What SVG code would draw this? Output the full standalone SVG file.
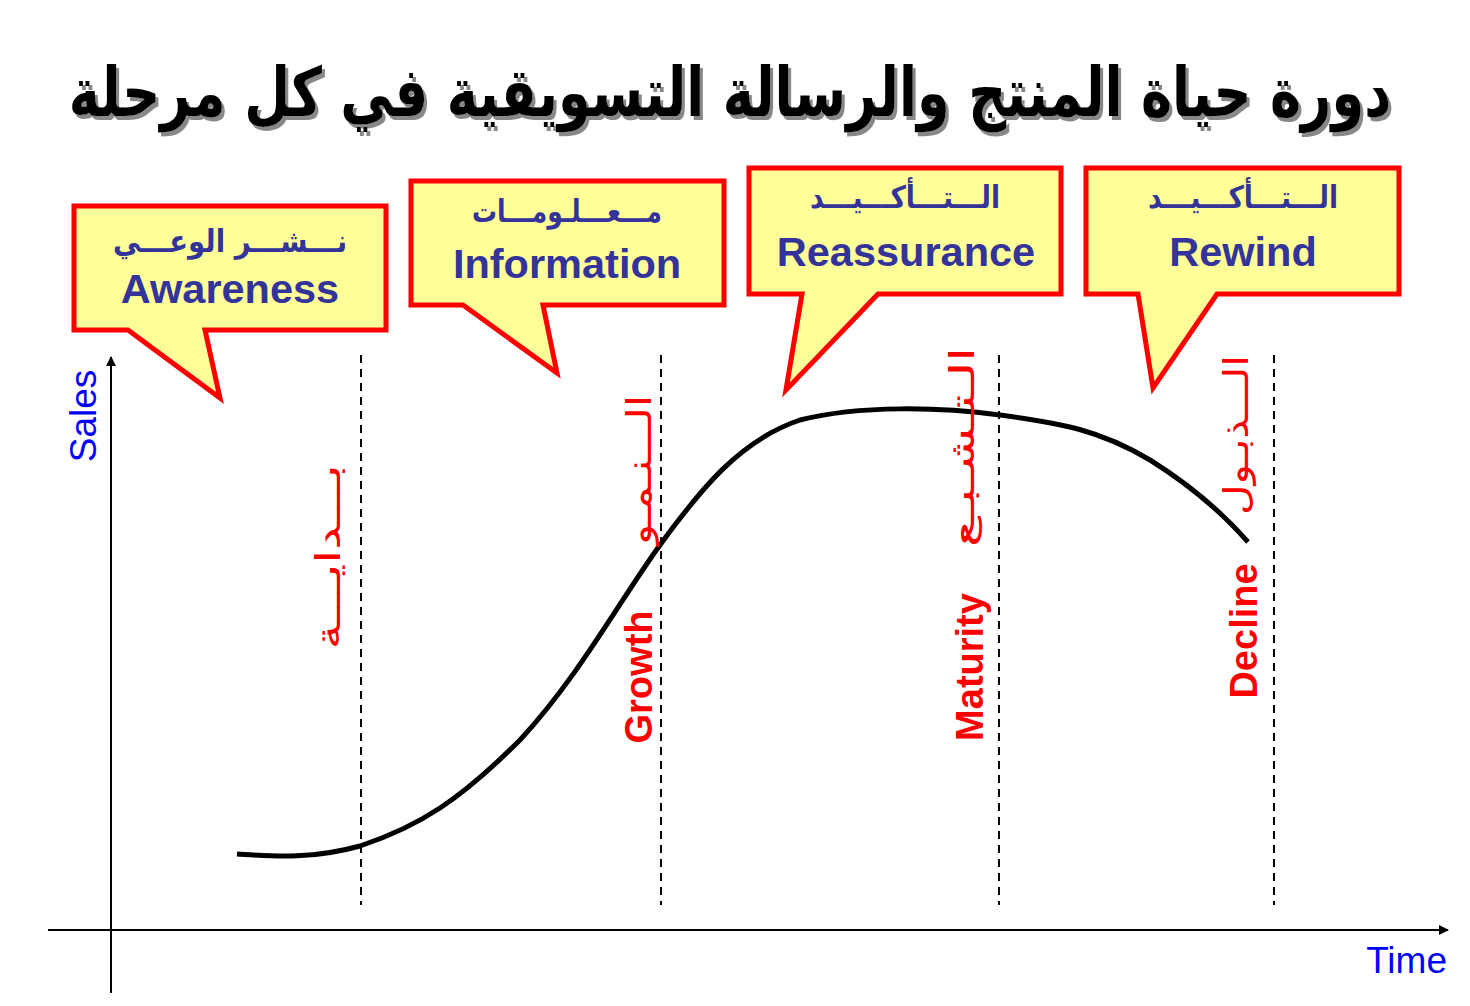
<svg xmlns="http://www.w3.org/2000/svg" width="1470" height="1006" viewBox="0 0 1470 1006">
<style>
.callout{fill:#FFFF99;stroke:#FF0000;stroke-width:5;stroke-linejoin:miter}
.ar{font-family:"DejaVu Sans",sans-serif;font-weight:bold;fill:#333399;font-size:31px;text-anchor:middle}
.en{font-family:"Liberation Sans",Arial,sans-serif;font-weight:bold;fill:#333399;font-size:41.5px;text-anchor:middle}
.stage{font-family:"Liberation Sans",Arial,sans-serif;font-weight:bold;fill:#FF0000;font-size:38px;text-anchor:middle}
.arst{font-family:"DejaVu Sans",sans-serif;fill:#FF0000;font-size:34px;text-anchor:middle}
.axlab{font-family:"Liberation Sans",Arial,sans-serif;fill:#0000FF;font-size:37px}
.dash{stroke:#000;stroke-width:2;stroke-dasharray:8,6;fill:none}
.title{font-family:"DejaVu Sans",sans-serif;font-weight:bold;font-size:64px;text-anchor:middle}
</style>
<defs>
<marker id="arr" viewBox="0 0 10 10" refX="9" refY="5" markerWidth="10" markerHeight="10" markerUnits="userSpaceOnUse" orient="auto">
<path d="M0,0 L10,5 L0,10 Z" fill="#000"/>
</marker>
<filter id="shadow" x="-10%" y="-50%" width="120%" height="200%">
<feOffset in="SourceAlpha" dx="4" dy="4" result="o"/>
<feFlood flood-color="#888"/>
<feComposite in2="o" operator="in" result="s"/>
<feMerge><feMergeNode in="s"/><feMergeNode in="SourceGraphic"/></feMerge>
</filter>
</defs>
<rect width="1470" height="1006" fill="#fff"/>
<g id="title">
<text class="title" transform="translate(730,116) scale(0.825,1.06)" fill="#000" filter="url(#shadow)">دورة حياة المنتج والرسالة التسويقية في كل مرحلة</text>
</g>
<g id="axes">
<line x1="111" y1="993" x2="111" y2="357" stroke="#000" stroke-width="2" marker-end="url(#arr)"/>
<line x1="48" y1="930" x2="1448" y2="930" stroke="#000" stroke-width="2" marker-end="url(#arr)"/>
<text class="axlab" transform="translate(96,416) rotate(-90)" text-anchor="middle">Sales</text>
<text class="axlab" x="1447" y="973" text-anchor="end">Time</text>
</g>
<g id="dividers">
<line class="dash" x1="361" y1="355" x2="361" y2="905"/>
<line class="dash" x1="661" y1="355" x2="661" y2="905"/>
<line class="dash" x1="999" y1="355" x2="999" y2="905"/>
<line class="dash" x1="1274" y1="355" x2="1274" y2="905"/>
</g>
<g id="curve">
<path d="M237,854 C270,856 310,860 360,846 C420,826 460,800 520,740 C580,675 620,600 660,545 C700,490 740,440 800,420 C860,405 940,407 1000,415 C1060,423 1100,430 1150,460 C1190,485 1220,510 1248,542" fill="none" stroke="#000" stroke-width="5"/>
</g>
<g id="stage-intro">
<text class="arst" transform="translate(340,557) rotate(-90)" textLength="185" lengthAdjust="spacingAndGlyphs">بـــدايـــة</text>
</g>
<g id="stage-growth">
<text class="arst" transform="translate(651,470) rotate(-90)" textLength="150" lengthAdjust="spacingAndGlyphs">الـــنـمـو</text>
<text class="stage" transform="translate(652,677) rotate(-90)">Growth</text>
</g>
<g id="stage-maturity">
<text class="arst" transform="translate(974,447) rotate(-90)" textLength="200" lengthAdjust="spacingAndGlyphs">الـتـشـبـع</text>
<text class="stage" transform="translate(983,667) rotate(-90)">Maturity</text>
</g>
<g id="stage-decline">
<text class="arst" transform="translate(1248,435) rotate(-90)" textLength="160" lengthAdjust="spacingAndGlyphs">الـــذبـول</text>
<text class="stage" transform="translate(1257,631) rotate(-90)">Decline</text>
</g>
<g id="callout-awareness">
<path class="callout" d="M74,206 H386 V330 H205 L220,398 L128,330 H74 Z"/>
<text class="ar" x="230" y="252" textLength="234" lengthAdjust="spacingAndGlyphs">نـــشـــر الوعـــي</text>
<text class="en" x="230" y="303">Awareness</text>
</g>
<g id="callout-information">
<path class="callout" d="M411,181 H724 V305 H543 L557,373 L463,305 H411 Z"/>
<text class="ar" x="567" y="222" textLength="190" lengthAdjust="spacingAndGlyphs">مـــعـــلـومـــات</text>
<text class="en" x="567" y="278">Information</text>
</g>
<g id="callout-reassurance">
<path class="callout" d="M749,168 H1061 V294 H878 L786,390 L802,294 H749 Z"/>
<text class="ar" x="905" y="208" textLength="190" lengthAdjust="spacingAndGlyphs">الـــتـــأكـــيـــد</text>
<text class="en" x="906" y="266">Reassurance</text>
</g>
<g id="callout-rewind">
<path class="callout" d="M1086,168 H1399 V294 H1217 L1153,388 L1138,294 H1086 Z"/>
<text class="ar" x="1243" y="208" textLength="190" lengthAdjust="spacingAndGlyphs">الـــتـــأكـــيـــد</text>
<text class="en" x="1243" y="266">Rewind</text>
</g>
</svg>
